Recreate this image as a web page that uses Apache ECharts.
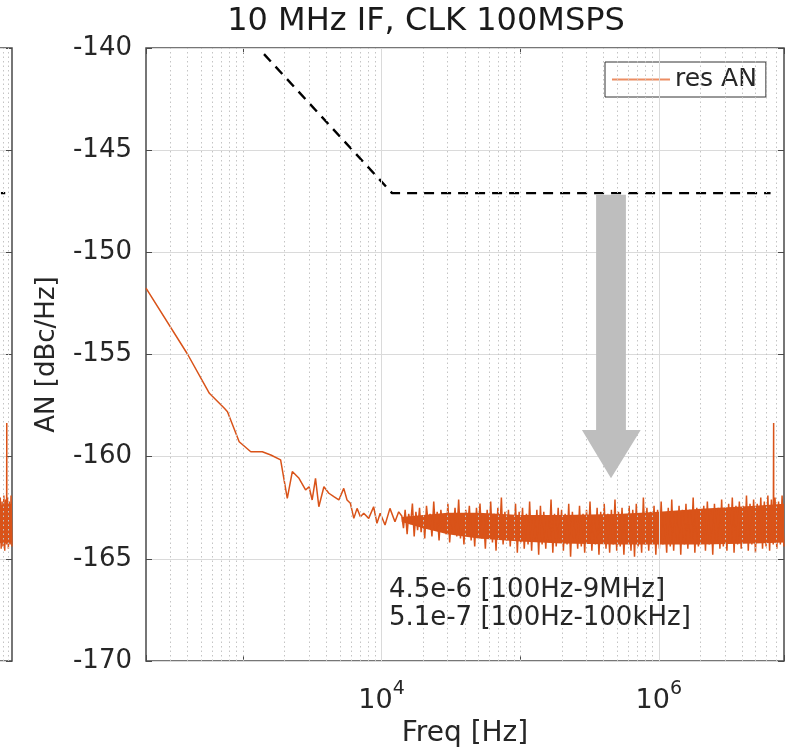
<!DOCTYPE html>
<html><head><meta charset="utf-8">
<script src="https://cdn.jsdelivr.net/npm/echarts@6/dist/echarts.min.js"></script>
<style>html,body{margin:0;padding:0;background:#fff}#c{width:791px;height:751px}</style>
</head><body><div id="c"></div>
<script>
// ---------- data ----------
const titleText = '10 MHz IF, CLK 100MSPS';
const seriesName = 'res AN';
const xName = 'Freq [Hz]';
const yName = 'AN [dBc/Hz]';
const xLabelExponents = [4, 6];
const noteLines = ['4.5e-6 [100Hz-9MHz]', '5.1e-7 [100Hz-100kHz]'];

// low-frequency part of "res AN"
const lowFreq = [200, 400, 573, 735, 774, 940, 1140, 1380, 1590, 1871, 2090, 2272, 2540, 2832, 3000, 3160, 3340, 3530, 3840, 4170, 4530, 4920, 5340, 5640, 5960, 6310, 6660, 7040, 7440, 8080, 8770, 9270, 9780, 10600, 11500, 12500, 13300];
const lowAN = [-151.75, -155.0, -156.9, -157.63, -157.8, -159.27, -159.76, -159.76, -159.92, -160.16, -162.04, -160.73, -161.06, -161.63, -161.47, -162.12, -161.06, -162.45, -161.47, -161.79, -161.96, -162.12, -161.55, -162.12, -162.28, -163.02, -162.53, -162.94, -162.77, -163.02, -162.45, -163.26, -162.77, -163.34, -162.53, -163.18, -162.7];

// dense noise band of "res AN" (peaks and troughs)
const bandFreq = [
 14000, 14400, 14800, 15300, 15700, 16200, 16700, 17200, 17700, 18200,
 18800, 19300, 19900, 20500, 21100, 21800, 22400, 23100, 23800, 24500,
 25200, 26000, 26800, 27600, 28400, 29300, 30100, 31000, 32000, 32900,
 33900, 34900, 36000, 37100, 38200, 39300, 40500, 41700, 43000, 44300,
 45600, 47000, 48400, 49800, 51300, 52900, 54400, 56100, 57800, 59500,
 61300, 63100, 65000, 67000, 69000, 71000, 73200, 75300, 77600, 79900,
 82300, 84800, 87300, 89900, 92600, 95400, 98300, 101000, 104000, 107000,
 111000, 114000, 117000, 121000, 124000, 128000, 132000, 136000, 140000, 144000,
 148000, 153000, 157000, 162000, 167000, 172000, 177000, 182000, 188000, 193000,
 199000, 205000, 211000, 218000, 224000, 231000, 238000, 245000, 252000, 260000,
 268000, 276000, 284000, 292000, 301000, 310000, 319000, 329000, 339000, 349000,
 359000, 370000, 381000, 393000, 404000, 416000, 429000, 442000, 455000, 469000,
 483000, 497000, 512000, 527000, 543000, 560000, 576000, 594000, 611000, 630000,
 649000, 668000, 688000, 709000, 730000, 752000, 774000, 797000, 821000, 846000,
 871000, 897000, 924000, 952000, 980000, 1010000, 1040000, 1070000, 1100000, 1140000,
 1170000, 1210000, 1240000, 1280000, 1320000, 1360000, 1400000, 1440000, 1480000, 1530000,
 1570000, 1620000, 1670000, 1720000, 1770000, 1820000, 1880000, 1930000, 1990000, 2050000,
 2110000, 2170000, 2240000, 2310000, 2380000, 2450000, 2520000, 2600000, 2680000, 2760000,
 2840000, 2920000, 3010000, 3100000, 3190000, 3290000, 3390000, 3490000, 3600000, 3700000,
 3810000, 3930000, 4050000, 4170000, 4290000, 4420000, 4550000, 4690000, 4830000, 4980000,
 5130000, 5280000, 5440000, 5600000, 5770000, 5940000, 6120000, 6300000, 6490000, 6690000,
 6735000, 6745000, 6890000, 7100000, 7310000, 7530000, 7750000, 7980000];
const bandAN = [
 -162.9, -163.5, -162.6, -163.8, -162.8, -163.3, -162.3, -163.9, -162.7, -163.6,
 -162.5, -163.7, -162.9, -164.0, -162.4, -163.4, -162.8, -163.9, -162.2, -163.6,
 -162.7, -164.1, -162.6, -163.5, -162.9, -163.8, -162.3, -164.2, -162.8, -163.6,
 -162.5, -163.9, -162.1, -164.0, -162.9, -164.3, -162.6, -163.7, -162.4, -164.1,
 -162.8, -164.4, -162.5, -163.8, -162.3, -164.0, -162.9, -164.5, -162.6, -163.9,
 -162.2, -164.2, -162.8, -164.6, -162.5, -163.9, -162.0, -164.3, -162.7, -164.1,
 -162.6, -164.4, -162.9, -164.0, -162.3, -164.7, -162.7, -164.2, -162.5, -164.5,
 -162.8, -164.3, -162.2, -164.6, -162.9, -164.1, -162.6, -164.8, -162.4, -164.3,
 -162.7, -164.5, -162.9, -164.2, -162.1, -164.7, -162.8, -164.4, -162.5, -164.0,
 -162.6, -164.6, -162.8, -164.3, -162.3, -164.9, -162.7, -164.2, -162.9, -164.5,
 -162.4, -164.4, -162.8, -164.7, -162.6, -164.1, -162.2, -164.6, -162.9, -164.3,
 -162.5, -164.8, -162.7, -164.2, -162.3, -164.5, -162.8, -164.7, -162.6, -164.3,
 -162.1, -164.6, -162.7, -164.4, -162.5, -164.8, -162.9, -164.2, -162.4, -164.6,
 -162.6, -164.9, -162.3, -164.4, -162.8, -164.7, -162.0, -164.3, -162.5, -164.6,
 -162.7, -164.2, -162.4, -164.8, -162.6, -164.5, -162.2, -164.3, -162.8, -164.7,
 -162.5, -164.4, -162.1, -164.6, -162.7, -164.2, -162.4, -164.8, -162.6, -164.3,
 -162.3, -164.5, -162.6, -164.1, -162.0, -164.7, -162.5, -164.4, -162.7, -164.2,
 -162.4, -164.6, -162.2, -164.3, -162.6, -164.8, -162.3, -164.1, -162.5, -164.5,
 -162.1, -164.4, -162.5, -164.6, -162.3, -164.2, -162.0, -164.7, -162.4, -164.3,
 -162.2, -164.5, -162.4, -164.1, -161.9, -164.6, -162.3, -164.3, -162.1, -164.7,
 -162.3, -164.2, -162.0, -164.5, -162.2, -164.4, -161.9, -164.6, -162.1, -164.3,
 -158.35, -164.0, -162.0, -164.5, -162.2, -164.3, -161.9, -164.4];

// solid core of the noise band (upper / lower edge)
const coreFreq = [14000, 20000, 30000, 50000, 100000, 200000, 500000, 1000000, 2000000, 5000000, 8000000];
const coreHigh = [-162.95, -162.85, -162.75, -162.75, -162.85, -162.85, -162.8, -162.7, -162.55, -162.4, -162.3];
const coreLow  = [-163.2, -163.5, -163.8, -164.0, -164.15, -164.25, -164.3, -164.3, -164.3, -164.25, -164.2];

// black dashed reference line
const specFreq = [1420, 11900, 6400000];
const specAN = [-140.3, -147.1, -147.1];

// ---------- layout / style ----------
const FONT = "'DejaVu Sans', sans-serif";
const TXT = '#262626';
const LINE_COLOR = '#D95319';
const ARROW = {shaftL: 353000, shaftR: 579000, headL: 279000, headR: 740000, tipX: 452000,
               top: -147.18, base: -158.69, tip: -161.06};
const NOTE_POS = {f: 11300, v1: -166.53, v2: -167.9};

const resData = lowFreq.map((f, i) => [f, lowAN[i]])
  .concat(bandFreq.map((f, i) => [f, bandAN[i]]));
const specData = specFreq.map((f, i) => [f, specAN[i]]);

const minorLines = [];
for (let e = 2; e <= 6; e++) {
  for (let m = 1; m <= 9; m++) {
    const f = m * Math.pow(10, e);
    if (f > 200 && f < 8e6 && !(m === 1 && (e === 4 || e === 6))) minorLines.push({xAxis: f});
  }
}
const majorLines = [{xAxis: 1e4}, {xAxis: 1e6}];

function xFmt(v) {
  const e = Math.round(Math.log10(v));
  if (Math.abs(v / Math.pow(10, e) - 1) < 1e-6 && xLabelExponents.indexOf(e) >= 0) {
    return '{b|10}{s|' + e + '}';
  }
  return '';
}

const gridHelper = (xi, yi) => ({
  type: 'line', xAxisIndex: xi, yAxisIndex: yi, data: [], z: 1, silent: true,
  markLine: {
    silent: true, symbol: ['none', 'none'], label: {show: false}, animation: false,
    data: minorLines.map(d => Object.assign({lineStyle: {type: [1.5, 3], color: '#C4C4C4', width: 1}}, d))
      .concat(majorLines.map(d => Object.assign({lineStyle: {type: 'solid', color: '#DADADA', width: 1}}, d)))
  }
});

const coreSeries = (xi, yi) => ({
  type: 'custom', xAxisIndex: xi, yAxisIndex: yi, z: 3, silent: true, clip: true,
  data: [[coreFreq[0], coreHigh[0]]],
  renderItem: function (params, api) {
    const pts = [];
    for (let i = 0; i < coreFreq.length; i++) pts.push(api.coord([coreFreq[i], coreHigh[i]]));
    for (let i = coreFreq.length - 1; i >= 0; i--) pts.push(api.coord([coreFreq[i], coreLow[i]]));
    return {type: 'polygon', shape: {points: pts}, style: {fill: LINE_COLOR}};
  }
});

const resLine = (name, xi, yi) => ({
  name: name, type: 'line', xAxisIndex: xi, yAxisIndex: yi, data: resData,
  showSymbol: false, symbol: 'none', z: 3, clip: true, sampling: null,
  lineStyle: {color: LINE_COLOR, width: 1.5, join: 'bevel'}, itemStyle: {color: LINE_COLOR}
});
const specLine = (name, xi, yi) => ({
  name: name, type: 'line', xAxisIndex: xi, yAxisIndex: yi, data: specData,
  showSymbol: false, symbol: 'none', z: 4, clip: true,
  lineStyle: {color: '#000', width: 2.4, type: [10, 7]}
});

const chart = echarts.init(document.getElementById('c'), null, {renderer: 'canvas'});
const option = {
  animation: false,
  backgroundColor: '#fff',
  grid: [
    {left: 146, right: 7, top: 48, bottom: 90, show: true, outerBoundsMode: 'none', containLabel: false,
     borderColor: '#4a4a4a', borderWidth: 1.5, backgroundColor: 'rgba(0,0,0,0)'},
    {left: -310, width: 322, top: 48, bottom: 90, show: true, outerBoundsMode: 'none', containLabel: false,
     borderColor: '#4a4a4a', borderWidth: 1.5, backgroundColor: 'rgba(0,0,0,0)'}
  ],
  legend: {
    data: [{name: seriesName, icon: 'rect', itemStyle: {color: '#EC8D63'}}],
    left: 605, top: 62, padding: [5, 9, 5, 7],
    itemWidth: 58, itemHeight: 2, backgroundColor: '#fff',
    borderColor: '#333', borderWidth: 1, borderRadius: 0,
    textStyle: {fontFamily: FONT, fontSize: 25, color: TXT}
  },
  xAxis: [
    {type: 'log', logBase: 10, min: 200, max: 8e6, gridIndex: 0,
     axisLine: {show: false}, splitLine: {show: false},
     axisTick: {inside: true, length: 6, lineStyle: {color: '#4a4a4a'}},
     axisLabel: {margin: 19, formatter: xFmt, rich: {
        b: {fontFamily: FONT, fontSize: 27, color: TXT, verticalAlign: 'bottom', lineHeight: 34},
        s: {fontFamily: FONT, fontSize: 19, color: TXT, verticalAlign: 'top', lineHeight: 34}}},
     name: xName, nameLocation: 'middle', nameGap: 59, nameMoveOverlap: false,
     nameTextStyle: {fontFamily: FONT, fontSize: 28, color: TXT}},
    {type: 'log', logBase: 10, min: 200, max: 8e6, gridIndex: 0, position: 'top',
     axisLine: {show: false}, splitLine: {show: false}, axisLabel: {show: false},
     axisTick: {inside: true, length: 6, lineStyle: {color: '#4a4a4a'}}},
    {type: 'log', logBase: 10, min: 200, max: 8e6, gridIndex: 1,
     axisLine: {show: false}, splitLine: {show: false}, axisLabel: {show: false}, axisTick: {show: false}}
  ],
  yAxis: [
    {type: 'value', min: -170, max: -140, interval: 5, gridIndex: 0,
     axisLine: {show: false},
     axisTick: {inside: true, length: 6, lineStyle: {color: '#4a4a4a'}},
     splitLine: {show: true, lineStyle: {color: '#DADADA', width: 1}},
     axisLabel: {fontFamily: FONT, fontSize: 26, color: TXT, margin: 14},
     name: yName, nameLocation: 'middle', nameGap: 86, nameRotate: 90, nameMoveOverlap: false,
     nameTextStyle: {fontFamily: FONT, fontSize: 26, color: TXT}},
    {type: 'value', min: -170, max: -140, interval: 5, gridIndex: 0, position: 'right',
     axisLine: {show: false}, splitLine: {show: false}, axisLabel: {show: false},
     axisTick: {inside: true, length: 6, lineStyle: {color: '#4a4a4a'}}},
    {type: 'value', min: -170, max: -140, interval: 5, gridIndex: 1, position: 'right',
     axisLine: {show: false}, axisLabel: {show: false},
     axisTick: {inside: true, length: 6, lineStyle: {color: '#4a4a4a'}},
     splitLine: {show: true, lineStyle: {color: '#DADADA', width: 1}}}
  ],
  series: [
    gridHelper(0, 0),
    gridHelper(2, 2),
    coreSeries(0, 0),
    coreSeries(2, 2),
    resLine(seriesName, 0, 0),
    specLine('spec', 0, 0),
    resLine(seriesName + ' ', 2, 2),
    specLine('spec ', 2, 2)
  ]
};
chart.setOption(option);

const P = (f, v) => chart.convertToPixel({xAxisIndex: 0, yAxisIndex: 0}, [f, v]);
const arrowPts = [
  P(ARROW.shaftL, ARROW.top), P(ARROW.shaftR, ARROW.top), P(ARROW.shaftR, ARROW.base),
  P(ARROW.headR, ARROW.base), P(ARROW.tipX, ARROW.tip), P(ARROW.headL, ARROW.base),
  P(ARROW.shaftL, ARROW.base)
];
const n1 = P(NOTE_POS.f, NOTE_POS.v1);
const n2 = P(NOTE_POS.f, NOTE_POS.v2);
const tPos = [426, 22];
chart.setOption({
  graphic: [
    {type: 'polygon', z: 5, silent: true, shape: {points: arrowPts}, style: {fill: '#BEBEBE'}},
    {type: 'text', z: 6, x: n1[0], y: n1[1], silent: true,
     style: {text: noteLines[0], font: '26px ' + FONT, fill: TXT, textAlign: 'left', textVerticalAlign: 'middle'}},
    {type: 'text', z: 6, x: n2[0], y: n2[1], silent: true,
     style: {text: noteLines[1], font: '26px ' + FONT, fill: TXT, textAlign: 'left', textVerticalAlign: 'middle'}},
    {type: 'text', z: 6, x: tPos[0], y: tPos[1], silent: true,
     style: {text: titleText, font: '32px ' + FONT, fill: '#1a1a1a', textAlign: 'center', textVerticalAlign: 'middle'}}
  ]
});
</script></body></html>
